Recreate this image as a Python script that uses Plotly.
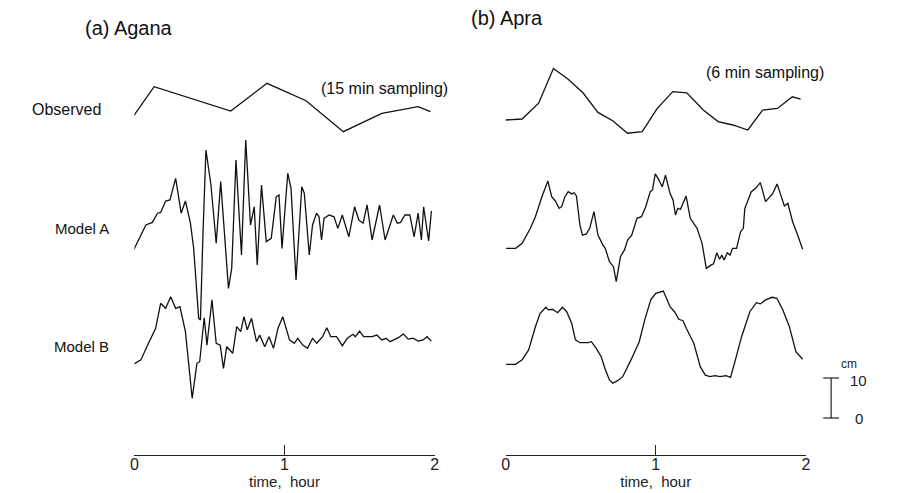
import plotly.graph_objects as go

# ---------------- data (time in minutes, sea level in cm) ----------------
# (a) Agana
agana_obs_t = [-1.0, 7.9, 38.5, 53.0, 68.6, 83.5, 98.9, 113.4, 118.3]
agana_obs_v = [0, 7.9, 1.8, 8.75, 4.4, -3.35, 1.25, 2.9, 1.65]

agana_a_t = [-0.3, 2.0, 4.6, 7.2, 9.2, 10.5, 12.5, 14.2, 16.5, 18.7, 20.4, 22.4, 23.7,
             25.7, 26.4, 27.4, 28.6, 30.6, 32.7, 34.5, 36.2, 37.6, 38.9, 40.6, 42.8,
             44.5, 46.4, 47.9, 49.1, 50.8, 52.7, 54.7, 56.7, 57.8, 59.0, 61.3, 62.6,
             64.6, 66.9, 67.9, 69.9, 71.2, 72.8, 73.8, 74.8, 75.8, 77.8, 79.8, 81.3,
             83.1, 85.7, 88.0, 89.7, 91.4, 93.0, 95.0, 98.0, 100.2, 103.5, 105.1,
             106.4, 108.1, 110.1, 111.8, 113.4, 114.7, 115.6, 117.6, 118.7]
agana_a_v = [0, 2.9, 6.25, 6.9, 9.2, 9.4, 12.25, 12.5, 17.9, 9.2, 12.25, 6.7, 0.4,
             -17.1, -17.5, 3.75, 25, 16.25, 1.7, 17.1, 2.1, -9.6, -4.6, 22.5, -1.25,
             27.5, 6.25, 10.8, -3.75, 16.25, 2.1, 2.9, 13.3, 13.75, 0.4, 19.2, 15.4,
             -7.5, 15.8, 14.2, -1.25, 6.25, 9.2, 8.3, 2.5, 7.9, 8.75, 8.3, 5.4,
             8.75, 3.3, 10.8, 7.5, 6.7, 11.25, 2.5, 11.25, 2.5, 8.75, 6.7,
             6.9, 8.75, 8.75, 3.3, 9.2, 2.5, 10.8, 2.25, 9.75]

agana_b_t = [-0.3, 2.6, 5.3, 8.5, 10.5, 12.5, 14.5, 16.5, 18.2, 20.4, 23.1, 25.0, 26.1,
             27.9, 29.0, 31.0, 32.7, 34.3, 35.6, 36.9, 39.3, 40.9, 42.5, 43.8, 45.1,
             46.8, 48.8, 50.1, 52.1, 53.8, 55.6, 57.4, 59.3, 62.0, 63.9, 65.3, 67.3,
             69.2, 71.2, 72.9, 75.2, 76.9, 78.5, 80.8, 83.1, 85.1, 87.4, 88.3, 90.0,
             91.6, 95.0, 96.9, 98.9, 100.6, 102.2, 105.5, 107.5, 109.4, 111.4, 113.4,
             115.4, 117.0, 118.7]
agana_b_v = [0, 1.1, 4.8, 9.0, 15.25, 14.0, 16.9, 14.0, 14.4, 8.15, -8.5, 0.25, 0.65,
             11.65, 4.8, 16.1, 5.25, 4.8, -1.0, 4.4, 2.75, 9.4, 8.15, 11.9, 8.6,
             11.5, 5.65, 7.3, 4.4, 6.9, 4.0, 9.0, 11.9, 6.1, 5.25, 6.5, 4.8,
             4.0, 6.5, 5.25, 6.9, 9.15, 6.9, 6.9, 4.65, 6.5, 7.5, 6.9, 8.3,
             6.9, 6.9, 7.3, 6.1, 6.5, 5.65, 6.65, 7.6, 6.3, 6.5, 5.8,
             6.1, 6.9, 5.8]

# (b) Apra
apra_obs_t = [0, 6.6, 13.2, 19.1, 25.0, 30.9, 36.9, 42.8, 48.7, 54.6, 60.6, 66.8, 72.4,
              79.0, 84.9, 90.8, 96.8, 102.7, 108.6, 114.6, 117.9]
apra_obs_v = [0, 0.25, 4.2, 12.9, 10.2, 6.8, 1.9, -0.2, -3.3, -2.9, 2.9, 7.1, 6.8,
              2.5, -0.4, -1.25, -2.5, 2.5, 2.9, 5.8, 5.2]

apra_a_t = [0.2, 4.0, 6.6, 9.9, 11.9, 14.5, 16.9, 18.4, 19.8, 21.4, 22.4, 23.7, 25.0,
            26.4, 27.4, 28.3, 29.7, 30.7, 32.3, 33.6, 35.3, 36.9, 38.9, 39.8, 41.5,
            43.1, 44.2, 45.9, 47.5, 48.8, 50.4, 52.5, 54.3, 56.0, 57.8, 58.7, 59.8,
            60.9, 62.6, 63.9, 65.7, 66.9, 67.9, 68.8, 69.9, 72.1, 73.8, 76.5, 78.5,
            80.2, 82.0, 83.1, 84.4, 85.5, 86.4, 87.3, 88.6, 89.7, 90.7, 92.3, 93.9,
            95.0, 95.6, 98.2, 99.9, 101.8, 103.9, 105.5, 106.8, 108.5, 110.1, 111.4,
            112.8, 114.7, 116.7, 118.7]
apra_a_v = [0, 0, 1.25, 5.0, 7.9, 12.9, 16.8, 12.9, 11.9, 10.0, 10.4, 12.9, 14.15,
            13.6, 13.9, 13.1, 5.8, 3.3, 3.6, 5.0, 9.15, 3.3, 0.8, 0, -3.35,
            -4.6, -8.35, -2.1, -0.4, 2.1, 3.3, 7.5, 7.9, 10.4, 14.15, 14.6, 18.6,
            17.5, 15.4, 18.3, 13.75, 12.1, 8.3, 10.0, 9.75, 13.1, 7.5, 5.0, 1.25,
            -5.0, -4.2, -3.9, -1.1, -2.75, -1.7, -2.9, -1.1, -1.7, 0, 0, 4.15,
            5.0, 10.0, 14.15, 15.0, 16.4, 11.65, 12.9, 13.75, 16.1, 13.3, 10.6,
            11.25, 6.65, 3.3, -0.25]

apra_b_t = [0.2, 4.0, 6.6, 9.2, 11.9, 13.8, 16.1, 17.1, 18.7, 20.8, 22.7, 24.4, 26.4,
            27.9, 29.7, 33.0, 34.3, 36.2, 38.2, 39.8, 41.5, 42.8, 44.8, 46.8, 50.1,
            53.4, 55.6, 58.0, 60.0, 63.0, 64.6, 65.7, 67.5, 69.2, 70.9, 72.2, 75.2,
            77.8, 79.8, 81.7, 83.7, 85.7, 88.1, 89.9, 92.0, 94.3, 97.6, 100.2, 101.8,
            103.9, 106.5, 108.4, 110.8, 113.4, 116.0, 118.7]
apra_b_v = [0, 0, 1.1, 3.6, 9.4, 12.75, 14.25, 13.6, 13.75, 12.9, 14.25, 13.15, 10.25,
            6.1, 5.4, 5.4, 5.65, 4.0, 1.9, -1.25, -3.9, -4.75, -4.1, -3.1, 1.1,
            5.65, 11.1, 16.1, 17.75, 18.3, 16.1, 14.4, 13.15, 11.25, 10.9, 9.0, 5.25,
            -0.6, -2.7, -3.1, -2.85, -3.1, -2.85, -3.25, 1.5, 6.9, 13.15, 15.4, 15.1,
            16.1, 16.75, 16.5, 13.6, 9.4, 3.15, 1.25]

tick_vals = [0, 60, 120]
tick_text = ["0", "1", "2"]
scale_cm = [0, 10]

# ---------------- layout constants ----------------
W, H = 898, 493
PX_PER_CM = 4.0
Y_RANGE = [0, H / PX_PER_CM]
LINE = dict(color="#111111", width=1.3)
FONT = "Liberation Sans, Arial, sans-serif"

def yc(py):
    return (H - py) / PX_PER_CM

# vertical baselines (cm in figure space) of each trace
off_obs_a = yc(118.3)
off_obs_b = yc(120.0)
off_ma_a = yc(250.0)
off_ma_b = yc(248.3)
off_mb = yc(364.3)

fig = go.Figure()

def add(t, v, off, xa):
    fig.add_trace(go.Scatter(x=t, y=[off + val for val in v], xaxis=xa, yaxis="y",
                             mode="lines", line=LINE, showlegend=False,
                             hoverinfo="skip"))

add(agana_obs_t, agana_obs_v, off_obs_a, "x")
add(agana_a_t, agana_a_v, off_ma_a, "x")
add(agana_b_t, agana_b_v, off_mb, "x")
add(apra_obs_t, apra_obs_v, off_obs_b, "x2")
add(apra_a_t, apra_a_v, off_ma_b, "x2")
add(apra_b_t, apra_b_v, off_mb, "x2")

axis_pos = 1 - 454.5 / H
xcommon = dict(range=[0, 120], anchor="free", position=axis_pos, showline=True,
               linecolor="#222222", linewidth=1, ticks="inside", ticklen=10,
               tickwidth=1, tickcolor="#222222", tickvals=tick_vals,
               ticktext=tick_text, showgrid=False, zeroline=False,
               ticklabelstandoff=-5,
               tickfont=dict(family=FONT, size=16, color="#222222"),
               title=dict(text="time,  hour", standoff=0,
                          font=dict(family=FONT, size=15, color="#222222")),
               fixedrange=True)

fig.update_layout(
    width=W, height=H, margin=dict(l=0, r=0, t=0, b=0),
    paper_bgcolor="white", plot_bgcolor="white",
    xaxis=dict(domain=[131.7 / W, 435.0 / W], **xcommon),
    xaxis2=dict(domain=[506.7 / W, 810.0 / W], **xcommon),
    yaxis=dict(range=Y_RANGE, domain=[0, 1], visible=False, fixedrange=True),
    showlegend=False,
)

# scale bar (10 cm)
bar_x = 835.5 / W
cap = 8 / W
bar_base = yc(418.0)
fig.add_shape(type="line", xref="paper", yref="y", x0=bar_x, x1=bar_x,
              y0=bar_base + scale_cm[0], y1=bar_base + scale_cm[1], line=dict(color="#222222", width=1.2))
for s in scale_cm:
    fig.add_shape(type="line", xref="paper", yref="y", x0=bar_x - cap, x1=bar_x + cap,
                  y0=bar_base + s, y1=bar_base + s, line=dict(color="#222222", width=1.2))

def ann(text, px, py, size, anchor="left", color="#111111"):
    fig.add_annotation(text=text, x=px / W, y=1 - py / H, xref="paper", yref="paper",
                       xanchor=anchor, yanchor="middle", showarrow=False,
                       font=dict(family=FONT, size=size, color=color))

ann("(a) Agana", 80, 28, 20)
ann("(b) Apra", 470, 18, 20)
ann("Observed", 100, 110, 16, "right")
ann("Model A", 108, 228, 15, "right")
ann("Model B", 108, 346, 15, "right")
ann("(15 min sampling)", 318, 88, 16)
ann("(6 min sampling)", 707, 72, 16)
ann("cm", 843, 364, 12, color="#222222")
ann("10", 853, 380, 15, color="#222222")
fig.add_annotation(text="0", x=858 / W, y=bar_base + scale_cm[0], xref="paper", yref="y",
                   xanchor="left", yanchor="middle", showarrow=False,
                   font=dict(family=FONT, size=15, color="#222222"))

fig.write_html("out.html")
